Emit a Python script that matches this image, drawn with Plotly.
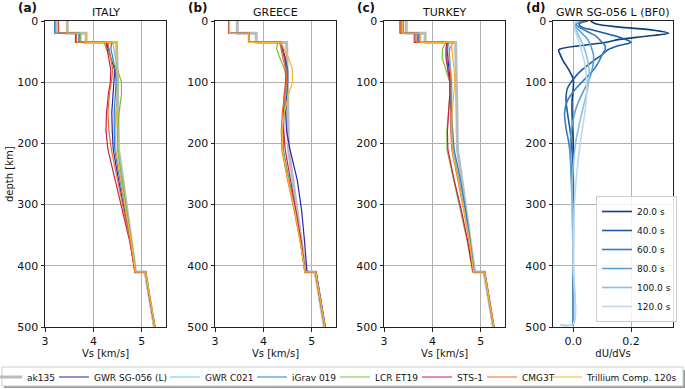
import plotly.graph_objects as go

# ------------------------------------------------------------------ data
DEPTH_KM = [0, 20, 20, 35, 35, 45, 60, 80, 100, 120, 150, 180, 210, 260, 310, 360, 410, 410, 460, 500]
AK135_VS = [3.46, 3.46, 3.85, 3.85, 4.48, 4.48, 4.485, 4.49, 4.495, 4.50, 4.506, 4.512, 4.518, 4.609, 4.696, 4.783, 4.870, 5.070, 5.176, 5.26]

MODEL_NAMES = ["GWR SG-056 (L)", "GWR C021", "iGrav 019", "LCR ET19", "STS-1", "CMG3T", "Trillium Comp. 120s"]
MODEL_COLORS = ["#2c22ae", "#66c8f2", "#1f84cf", "#7bbf3e", "#c51f48", "#f2672e", "#f6b431"]
REGION_TITLES = ["ITALY", "GREECE", "TURKEY"]
PANEL_LABELS = ["(a)", "(b)", "(c)", "(d)"]

ITALY_SG056 = [3.22, 3.22, 3.72, 3.72, 4.27, 4.30, 4.36, 4.44, 4.42, 4.40, 4.38, 4.39, 4.41, 4.52, 4.64, 4.76, 4.86, 5.08, 5.18, 5.27]
ITALY_C021 = [3.20, 3.20, 3.72, 3.72, 4.40, 4.42, 4.46, 4.50, 4.52, 4.49, 4.46, 4.45, 4.46, 4.57, 4.68, 4.78, 4.87, 5.08, 5.18, 5.27]
ITALY_IGRAV = [3.20, 3.20, 3.70, 3.70, 4.38, 4.36, 4.40, 4.45, 4.47, 4.45, 4.43, 4.43, 4.44, 4.55, 4.67, 4.78, 4.87, 5.08, 5.18, 5.27]
ITALY_LCR = [3.22, 3.22, 3.74, 3.74, 4.22, 4.26, 4.36, 4.50, 4.58, 4.58, 4.53, 4.50, 4.50, 4.59, 4.69, 4.79, 4.87, 5.08, 5.18, 5.27]
ITALY_STS1 = [3.28, 3.28, 3.63, 3.63, 4.26, 4.28, 4.32, 4.36, 4.35, 4.31, 4.27, 4.26, 4.30, 4.45, 4.61, 4.75, 4.86, 5.08, 5.18, 5.27]
ITALY_CMG3T = [3.27, 3.27, 3.65, 3.65, 4.30, 4.32, 4.36, 4.40, 4.37, 4.33, 4.30, 4.32, 4.37, 4.50, 4.63, 4.76, 4.86, 5.08, 5.18, 5.27]
ITALY_TRILL = [3.46, 3.46, 3.85, 3.85, 4.48, 4.48, 4.49, 4.50, 4.51, 4.50, 4.48, 4.46, 4.46, 4.56, 4.67, 4.78, 4.87, 5.08, 5.18, 5.27]

GREECE_SG056 = [3.29, 3.29, 3.70, 3.70, 4.36, 4.40, 4.45, 4.50, 4.50, 4.48, 4.46, 4.48, 4.55, 4.70, 4.79, 4.85, 4.90, 5.09, 5.19, 5.28]
GREECE_C021 = [3.29, 3.29, 3.70, 3.70, 4.36, 4.38, 4.43, 4.48, 4.49, 4.46, 4.42, 4.40, 4.40, 4.52, 4.66, 4.77, 4.86, 5.08, 5.18, 5.27]
GREECE_IGRAV = [3.28, 3.28, 3.70, 3.70, 4.34, 4.38, 4.44, 4.50, 4.50, 4.47, 4.43, 4.41, 4.41, 4.53, 4.66, 4.77, 4.86, 5.08, 5.18, 5.27]
GREECE_LCR = [3.29, 3.29, 3.69, 3.69, 4.30, 4.27, 4.34, 4.44, 4.48, 4.46, 4.42, 4.40, 4.40, 4.52, 4.65, 4.76, 4.86, 5.08, 5.18, 5.27]
GREECE_STS1 = [3.29, 3.29, 3.70, 3.70, 4.36, 4.40, 4.44, 4.47, 4.46, 4.43, 4.41, 4.42, 4.45, 4.56, 4.68, 4.78, 4.86, 5.08, 5.18, 5.27]
GREECE_CMG3T = [3.29, 3.29, 3.70, 3.70, 4.34, 4.36, 4.40, 4.46, 4.48, 4.44, 4.39, 4.37, 4.38, 4.50, 4.64, 4.76, 4.86, 5.08, 5.18, 5.27]
GREECE_TRILL = [3.30, 3.30, 3.70, 3.70, 4.36, 4.42, 4.52, 4.60, 4.60, 4.52, 4.43, 4.39, 4.39, 4.51, 4.65, 4.76, 4.86, 5.08, 5.18, 5.27]

TURKEY_SG056 = [3.36, 3.36, 3.70, 3.70, 4.30, 4.30, 4.32, 4.35, 4.37, 4.38, 4.38, 4.39, 4.42, 4.55, 4.67, 4.77, 4.85, 5.08, 5.18, 5.27]
TURKEY_C021 = [3.40, 3.40, 3.74, 3.74, 4.34, 4.34, 4.36, 4.38, 4.40, 4.40, 4.40, 4.41, 4.43, 4.56, 4.67, 4.77, 4.85, 5.08, 5.18, 5.27]
TURKEY_IGRAV = [3.39, 3.39, 3.72, 3.72, 4.33, 4.30, 4.30, 4.32, 4.36, 4.38, 4.40, 4.42, 4.45, 4.58, 4.69, 4.78, 4.86, 5.08, 5.18, 5.27]
TURKEY_LCR = [3.36, 3.36, 3.62, 3.62, 4.28, 4.21, 4.20, 4.28, 4.36, 4.36, 4.33, 4.30, 4.30, 4.44, 4.59, 4.72, 4.83, 5.08, 5.18, 5.27]
TURKEY_STS1 = [3.33, 3.33, 3.64, 3.64, 4.30, 4.28, 4.28, 4.32, 4.36, 4.36, 4.34, 4.31, 4.32, 4.45, 4.60, 4.73, 4.84, 5.08, 5.18, 5.27]
TURKEY_CMG3T = [3.35, 3.35, 3.68, 3.68, 4.42, 4.36, 4.34, 4.36, 4.39, 4.39, 4.38, 4.38, 4.40, 4.53, 4.65, 4.76, 4.85, 5.08, 5.18, 5.27]
TURKEY_TRILL = [3.38, 3.38, 3.76, 3.76, 4.40, 4.40, 4.42, 4.45, 4.46, 4.44, 4.41, 4.40, 4.41, 4.54, 4.66, 4.77, 4.85, 5.08, 5.18, 5.27]

KERNEL_DEPTH_KM = [0, 5, 10, 15, 20, 25, 30, 35, 40, 47, 55, 65, 80, 95, 110, 130, 150, 175, 200, 250, 300, 400, 495, 497]
KERNEL_PERIODS = ["20.0 s", "40.0 s", "60.0 s", "80.0 s", "100.0 s", "120.0 s"]
KERNEL_COLORS = ["#0a3f80", "#1d5ca2", "#3a7dbf", "#5c9fd4", "#8cbfe2", "#bdd7ee"]
K_20S = [0.06, 0.08, 0.16, 0.28, 0.33, 0.25, 0.16, 0.11, 0.03, -0.05, -0.045, -0.035, -0.015, 0.0, 0.0, -0.004, -0.004, -0.002, 0.0, 0.0, 0.0, 0.0, 0.0, 0.0]
K_40S = [0.05, 0.02, 0.03, 0.07, 0.11, 0.15, 0.18, 0.20, 0.16, 0.12, 0.10, 0.07, 0.03, 0.0, -0.02, -0.025, -0.02, -0.012, -0.006, 0.0, 0.0, 0.0, 0.0, 0.0]
K_60S = [0.04, 0.01, 0.02, 0.04, 0.06, 0.08, 0.09, 0.10, 0.11, 0.11, 0.10, 0.09, 0.07, 0.04, 0.01, -0.02, -0.03, -0.025, -0.015, -0.005, 0.0, 0.0, 0.0, 0.0]
K_80S = [0.03, 0.005, 0.01, 0.02, 0.03, 0.04, 0.05, 0.055, 0.06, 0.065, 0.07, 0.07, 0.065, 0.055, 0.04, 0.02, 0.005, -0.005, -0.01, -0.008, -0.003, 0.0, 0.0, 0.0]
K_100S = [0.02, 0.003, 0.006, 0.01, 0.015, 0.02, 0.025, 0.03, 0.035, 0.04, 0.045, 0.05, 0.055, 0.055, 0.05, 0.04, 0.03, 0.018, 0.008, -0.002, -0.004, 0.0, 0.0, -0.045]
K_120S = [0.015, 0.002, 0.004, 0.007, 0.01, 0.013, 0.016, 0.02, 0.024, 0.028, 0.032, 0.038, 0.043, 0.046, 0.047, 0.045, 0.04, 0.032, 0.024, 0.012, 0.004, 0.0, 0.0, -0.045]

X_TICKS_VS = [3, 4, 5]
Y_TICKS_DEPTH = [0, 100, 200, 300, 400, 500]
X_TICKS_K = [0.0, 0.2]
X_TICKTEXT_K = ["0.0", "0.2"]

REGION_DATA = [
    [ITALY_SG056, ITALY_C021, ITALY_IGRAV, ITALY_LCR, ITALY_STS1, ITALY_CMG3T, ITALY_TRILL],
    [GREECE_SG056, GREECE_C021, GREECE_IGRAV, GREECE_LCR, GREECE_STS1, GREECE_CMG3T, GREECE_TRILL],
    [TURKEY_SG056, TURKEY_C021, TURKEY_IGRAV, TURKEY_LCR, TURKEY_STS1, TURKEY_CMG3T, TURKEY_TRILL],
]
KERNELS = [K_20S, K_40S, K_60S, K_80S, K_100S, K_120S]

# ------------------------------------------------------------------ layout helpers
W, H = 685, 389
ML, MR, MT, MB = 45, 12, 21, 62
PW = W - ML - MR
PH = H - MT - MB
FONT = "DejaVu Sans"


def px_x(px):
    return (px - ML) / PW


def px_y(py):
    return 1 - (py - MT) / PH


PANEL_PX = [(45, 166), (215, 336), (384, 505), (553, 673)]

fig = go.Figure()

# legends for bottom row: text start positions in pixels
BOTTOM_TEXT_X = [27, 94, 205, 292, 375, 457, 522, 587]
legend_ids = ["legend"] + ["legend%d" % i for i in range(2, 9)]

for r in range(3):
    ax = "" if r == 0 else str(r + 1)
    fig.add_trace(go.Scatter(
        x=AK135_VS, y=DEPTH_KM, mode="lines", name="ak135",
        line=dict(color="#bbbbbb", width=3),
        xaxis="x" + ax, yaxis="y" + ax, showlegend=(r == 0), legend=legend_ids[0],
        hoverinfo="skip"))
    for m, vals in enumerate(REGION_DATA[r]):
        fig.add_trace(go.Scatter(
            x=vals, y=DEPTH_KM, mode="lines", name=MODEL_NAMES[m],
            line=dict(color=MODEL_COLORS[m], width=1.2),
            xaxis="x" + ax, yaxis="y" + ax, showlegend=(r == 0), legend=legend_ids[m + 1],
            hoverinfo="skip"))

for k, vals in enumerate(KERNELS):
    fig.add_trace(go.Scatter(
        x=vals, y=KERNEL_DEPTH_KM, mode="lines", name=KERNEL_PERIODS[k],
        line=dict(color=KERNEL_COLORS[k], width=1.6, shape="spline", smoothing=0.8),
        xaxis="x4", yaxis="y4", legend="legend9", hoverinfo="skip"))

axis_common = dict(
    showline=True, linecolor="#222222", linewidth=1, mirror=True,
    ticks="outside", ticklen=3.5, tickwidth=0.8, tickcolor="#222222",
    showgrid=True, gridcolor="#b0b0b0", gridwidth=0.8, zeroline=False,
    tickfont=dict(size=11, color="#111111", family=FONT),
)

layout = dict(
    width=W, height=H,
    margin=dict(l=ML, r=MR, t=MT, b=MB, autoexpand=False),
    paper_bgcolor="white", plot_bgcolor="white",
    font=dict(family=FONT, size=10, color="#111111"),
)

annotations = []
for i in range(4):
    ax = "" if i == 0 else str(i + 1)
    a, b = PANEL_PX[i]
    xa = dict(axis_common, domain=[px_x(a), px_x(b)], anchor="y" + ax)
    if i < 3:
        xa.update(range=[3.0, 5.5], tickvals=X_TICKS_VS,
                  title=dict(text="Vs [km/s]", font=dict(size=10, family=FONT), standoff=3))
    else:
        xa.update(range=[-0.07, 0.345], tickvals=X_TICKS_K, ticktext=X_TICKTEXT_K,
                  title=dict(text="dU/dVs", font=dict(size=10, family=FONT), standoff=3))
    ya = dict(axis_common, domain=[0, 1], anchor="x" + ax, range=[500, 0],
              tickvals=Y_TICKS_DEPTH)
    layout["xaxis" + ax] = xa
    layout["yaxis" + ax] = ya

    title = REGION_TITLES[i] if i < 3 else "GWR SG-056 L (BF0)"
    annotations.append(dict(text=title, x=px_x((a + b) / 2), y=px_y(12), xref="paper", yref="paper",
                            xanchor="center", yanchor="middle", showarrow=False,
                            font=dict(size=11, family=FONT, color="#111111")))
    annotations.append(dict(text="<b>%s</b>" % PANEL_LABELS[i], x=px_x(a - 29), y=px_y(8),
                            xref="paper", yref="paper", xanchor="left", yanchor="middle",
                            showarrow=False, font=dict(size=12, family=FONT, color="#111111")))

annotations.append(dict(text="depth [km]", x=px_x(9), y=px_y(174), xref="paper", yref="paper",
                        xanchor="center", yanchor="middle", textangle=-90, showarrow=False,
                        font=dict(size=10, family=FONT, color="#111111")))
layout["annotations"] = annotations

# bottom legend frame (shadow + box)
layout["shapes"] = [
    dict(type="rect", xref="paper", yref="paper", x0=px_x(4), x1=px_x(685), y0=px_y(370), y1=px_y(388),
         line=dict(width=0), fillcolor="#9a9a9a", layer="above"),
    dict(type="rect", xref="paper", yref="paper", x0=px_x(2), x1=px_x(683), y0=px_y(367), y1=px_y(386),
         line=dict(width=1, color="#cccccc"), fillcolor="white", layer="above"),
]

for j, lid in enumerate(legend_ids):
    layout[lid] = dict(
        x=px_x(BOTTOM_TEXT_X[j] - 40), xref="paper", xanchor="left",
        y=px_y(377), yref="paper", yanchor="middle",
        orientation="h", bgcolor="rgba(0,0,0,0)", borderwidth=0,
        font=dict(size=9, family=FONT, color="#111111"),
    )

layout["legend9"] = dict(
    x=px_x(596), xref="paper", xanchor="left",
    y=px_y(322), yref="paper", yanchor="bottom",
    bgcolor="rgba(255,255,255,0.85)", bordercolor="#cccccc", borderwidth=1,
    font=dict(size=9, family=FONT, color="#111111"),
)

fig.update_layout(**layout)
fig.write_html("out.html", config={"displayModeBar": False},
               post_script="document.body.style.margin='0px';document.body.style.overflow='hidden';")
